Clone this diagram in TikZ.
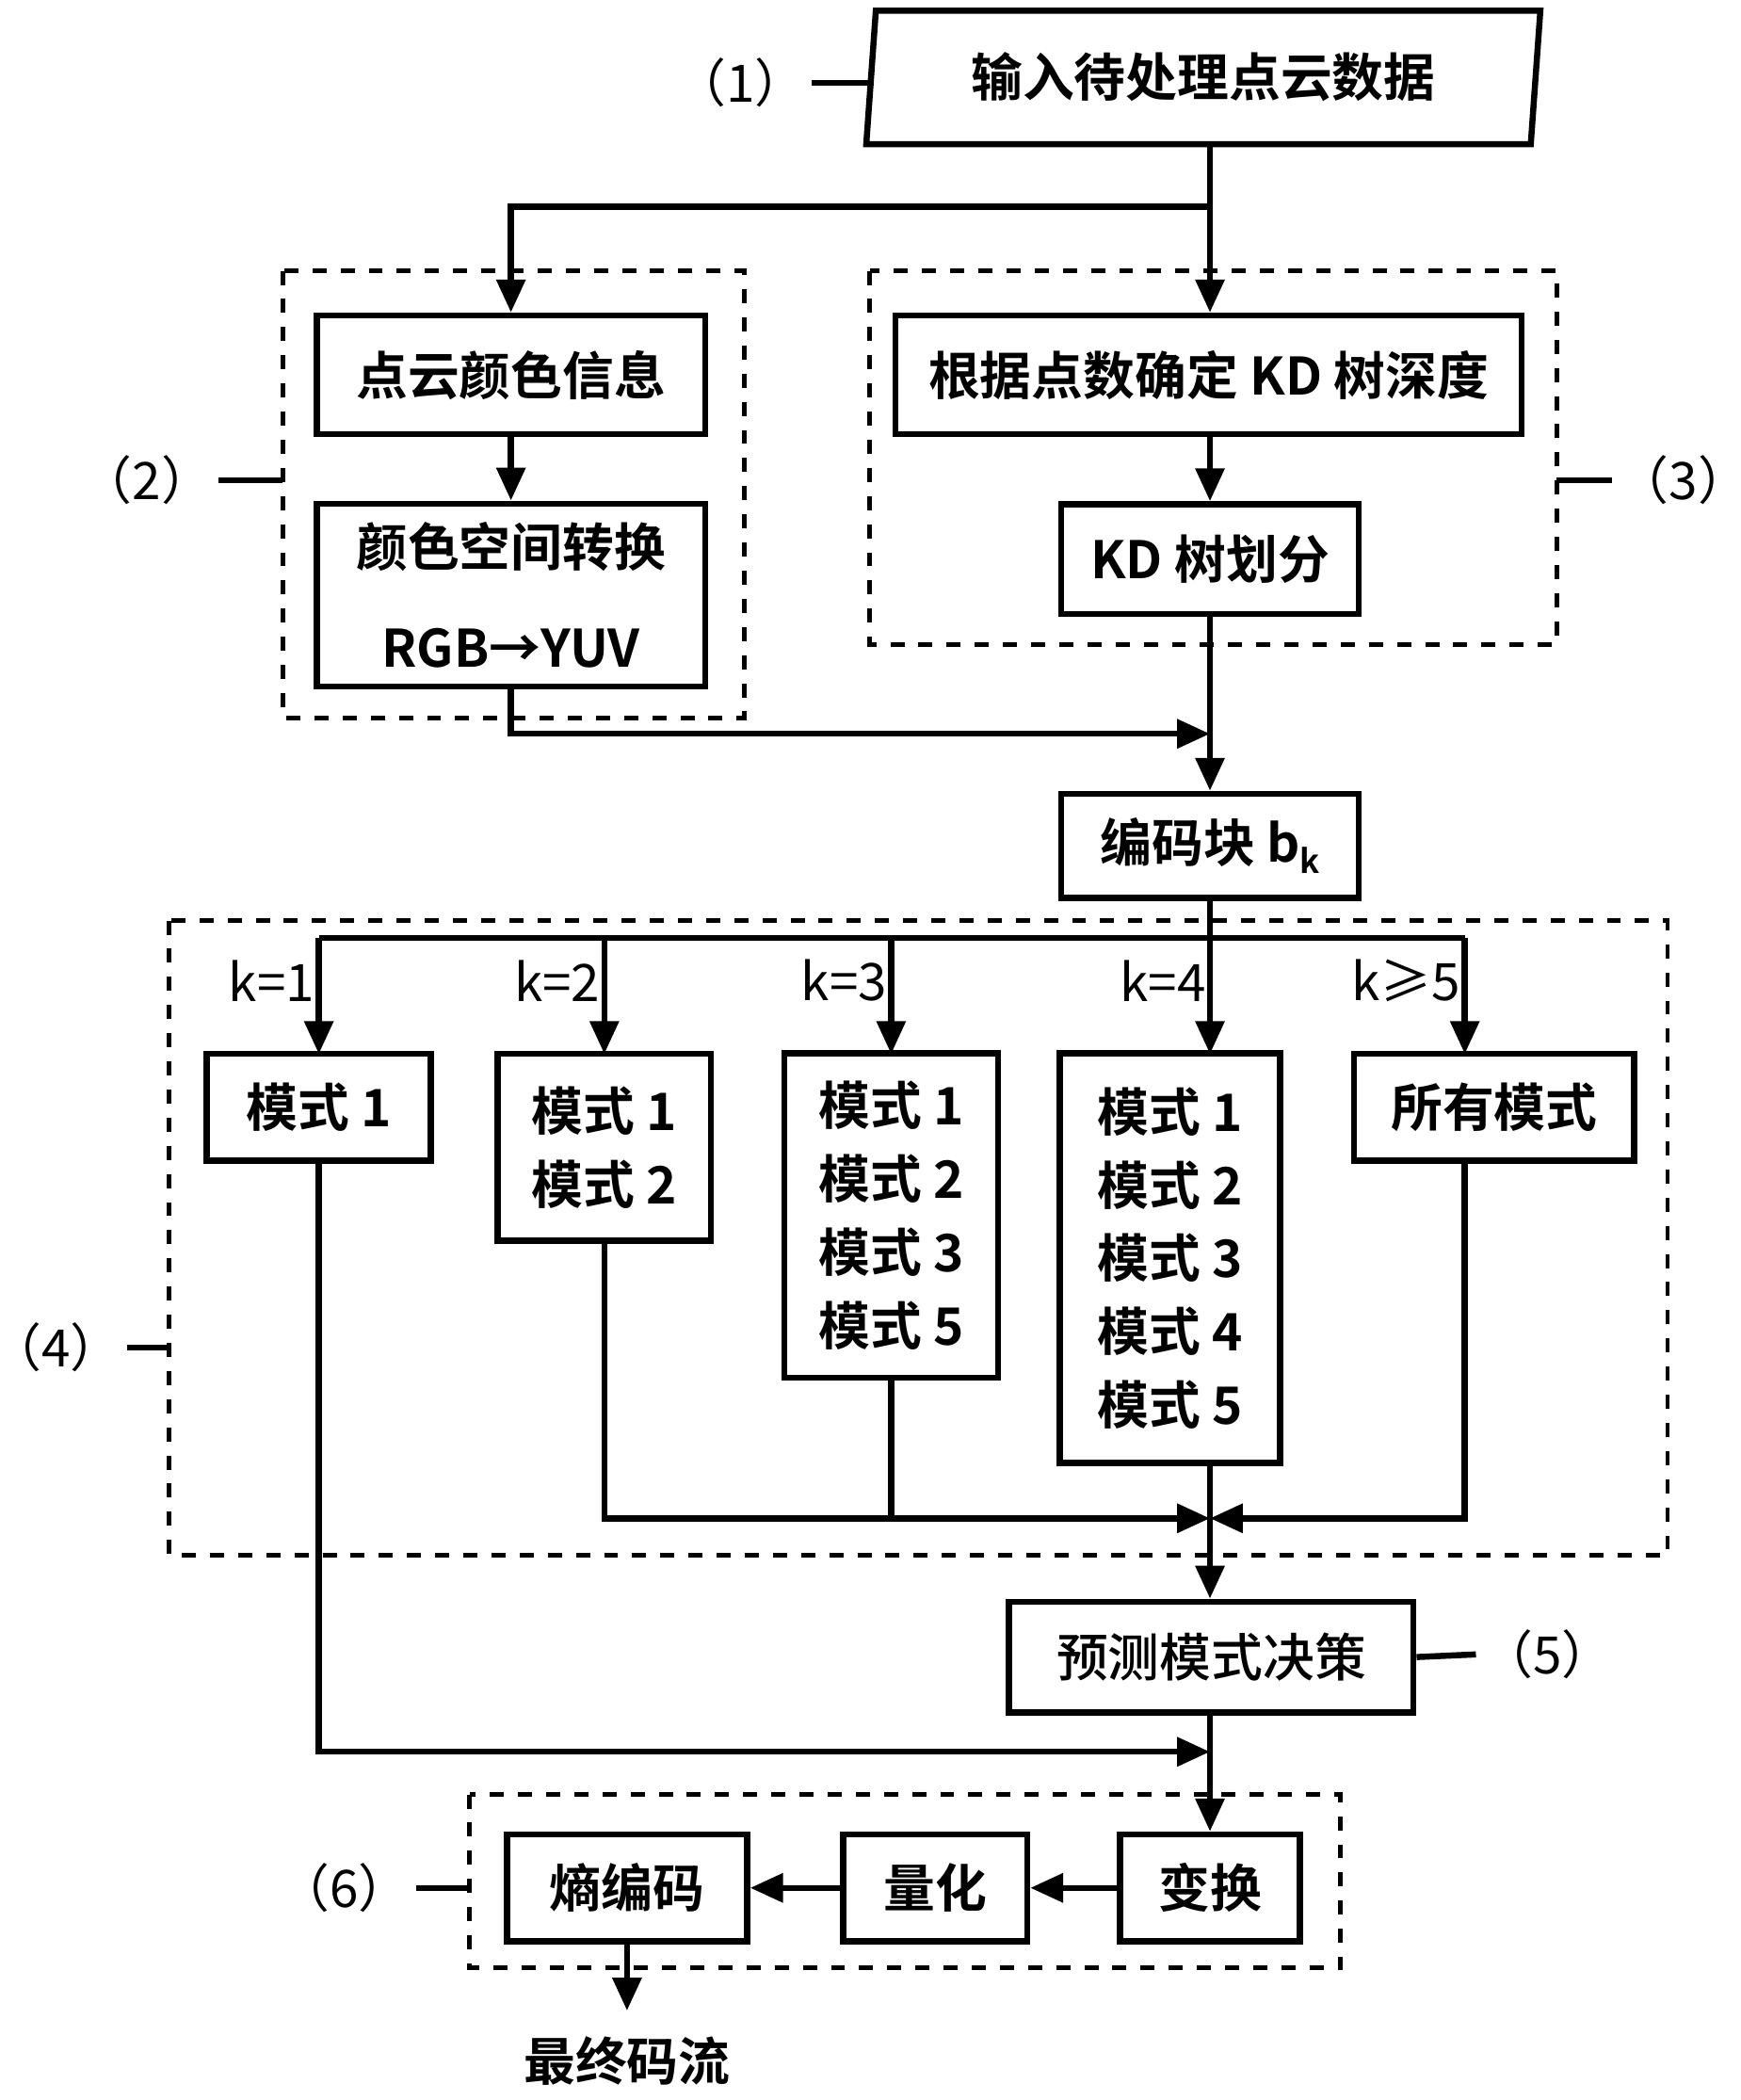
\documentclass[tikz,border=0pt]{standalone}
\usepackage{fontspec}
\setmainfont{Noto Sans CJK SC}
\newfontfamily\cjkb{Noto Sans CJK SC Bold}
\usetikzlibrary{arrows.meta,shapes.geometric}
\tikzset{
  box/.style={draw,line width=1.3pt,font=\cjkb\fontsize{11}{15.6}\selectfont,align=center,inner sep=0pt},
  grp/.style={draw,line width=1pt,dashed},
  arr/.style={line width=1.3pt,-{Triangle[length=7pt,width=6pt]}},
  ln/.style={line width=1.3pt},
  tag/.style={font=\fontsize{11}{14}\selectfont,inner sep=1pt},
}
\begin{document}
\begin{tikzpicture}[x=0.01cm,y=-0.01cm]
\useasboundingbox (0,0) rectangle (1305,1574);
% input
\node[box,trapezium,trapezium left angle=79,trapezium right angle=101,minimum width=5.05cm,minimum height=1cm,trapezium stretches body] (in) at (902,58) {输入待处理点云数据};
\node[tag] (t1) at (555,62) {（1）};
\draw[ln] (t1.east) -- (655,62);
% groups
\draw[grp] (212,203) rectangle (558,538);
\draw[grp] (652,203) rectangle (1167,483);
\draw[grp] (127,690) rectangle (1250,1166);
\draw[grp] (352,1345) rectangle (1005,1475);
\node[box,minimum width=2.91cm,minimum height=0.89cm] (col) at (383,281) {点云颜色信息};
\node[box,minimum width=2.91cm,minimum height=1.37cm] (yuv) at (383,446) {颜色空间转换\\[6pt]RGB→YUV};
\node[box,minimum width=4.69cm,minimum height=0.89cm] (dep) at (906,281) {根据点数确定 KD 树深度};
\node[box,minimum width=2.23cm,minimum height=0.82cm] (kd) at (907,419) {KD 树划分};
\node[box,minimum width=2.23cm,minimum height=0.78cm] (blk) at (907,634) {编码块 b\raisebox{-0.4ex}{\fontsize{7}{8}\selectfont k}};
\node[tag] (t2) at (110,360) {（2）};
\node[tag] (t3) at (1262,360) {（3）};
\node[tag] (t4) at (42,1010) {（4）};
\draw[ln] (t2.east) -- (212,360);
\draw[ln] (1167,360) -- (t3.west);
\draw[ln] (t4.east) -- (127,1010);
% top branches
\coordinate (s) at (907,155);
\draw[ln] (in.south -| s) -- (s);
\draw[arr] (s) -| (col.north);
\draw[arr] (s) -- (dep.north -| s);
\draw[arr] (col) -- (yuv);
\draw[arr] (dep.south -| kd) -- (kd.north);
\coordinate (m) at (907,550);
\draw[arr] (yuv.south) |- (m);
\draw[arr] (kd.south) -- (blk.north);
% modes
\node[box,minimum width=1.68cm,minimum height=0.8cm] (m1) at (239,830) {模式 1};
\node[box,minimum width=1.6cm,minimum height=1.4cm] (m2) at (453,860) {模式 1\\模式 2};
\node[box,minimum width=1.6cm,minimum height=2.43cm] (m3) at (668,911) {模式 1\\模式 2\\模式 3\\模式 5};
\node[box,minimum width=1.65cm,minimum height=3.07cm] (m4) at (877,943) {模式 1\\模式 2\\模式 3\\模式 4\\模式 5};
\node[box,minimum width=2.1cm,minimum height=0.8cm] (m5) at (1120,830) {所有模式};
\coordinate (h) at (907,703);
\draw[ln] (blk.south) -- (h);
\draw[ln] (239,703) -- (1098,703);
\foreach \x/\k in {239/k=1,453/k=2,668/k=3,907/k=4,1098/k≥5}{
  \draw[arr] (\x,703) -- (\x,790);
  \node[tag,anchor=east] at (\x+1,735) {\k};
}
\coordinate (j) at (907,1138);
\draw[arr] (m2.south) |- (j);
\draw[ln] (m3.south) -- (m3.south |- j);
\draw[arr] (m5.south -| 1098,0) |- (j);
% decision
\node[box,font=\fontspec{Noto Sans CJK SC Medium}\fontsize{11}{16}\selectfont,minimum width=3.03cm,minimum height=0.83cm] (dec) at (908,1242) {预测模式决策};
\draw[arr] (m4.south -| j) -- (dec.north -| j);
\node[tag] (t5) at (1160,1240) {（5）};
\draw[ln] (dec.east) -- (t5.west);
% coding
\node[box,minimum width=1.8cm,minimum height=0.8cm] (ent) at (470,1415) {熵编码};
\node[box,minimum width=1.38cm,minimum height=0.8cm] (qnt) at (701,1415) {量化};
\node[box,minimum width=1.35cm,minimum height=0.8cm] (trf) at (907,1415) {变换};
\coordinate (k) at (907,1313);
\draw[arr] (m1.south) |- (k);
\draw[arr] (dec.south -| trf) -- (trf.north);
\draw[arr] (trf) -- (qnt);
\draw[arr] (qnt) -- (ent);
\node[tag] (t6) at (258,1415) {（6）};
\draw[ln] (t6.east) -- (352,1415);
\node[box,draw=none] (out) at (470,1545) {最终码流};
\draw[arr] (ent.south) -- (470,1507);
\end{tikzpicture}
\end{document}
